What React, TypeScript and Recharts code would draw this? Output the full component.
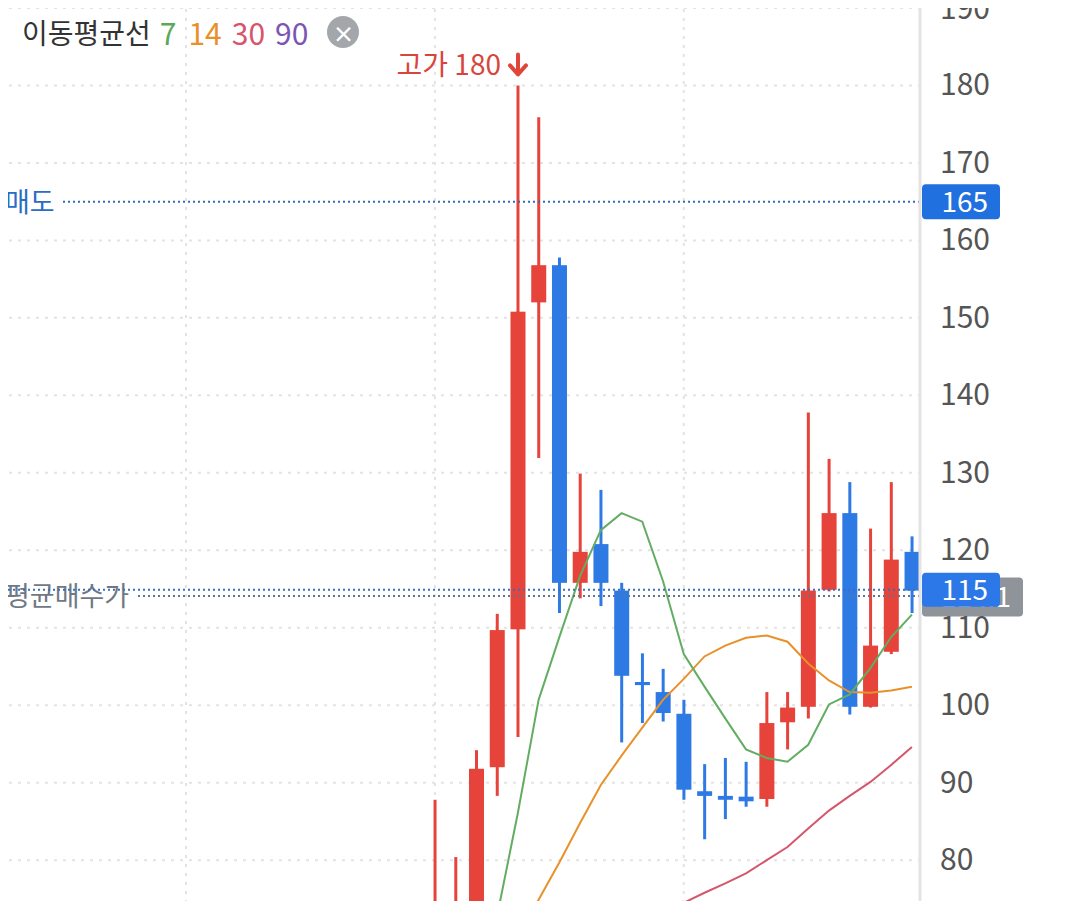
import React from 'react';
import { ComposedChart, Bar, Line, XAxis, YAxis, CartesianGrid, ReferenceLine } from 'recharts';

// candle index (no date labels are shown on the chart)
const candleIndex = [0, 1, 2, 3, 4, 5, 6, 7, 8, 9, 10, 11, 12, 13, 14, 15, 16, 17, 18, 19, 20, 21, 22, 23];

const opens = [70.0, 72.0, 74.7, 92.0, 109.8, 152.0, 156.8, 115.8, 120.8, 114.8, 103.0, 101.7, 98.9, 88.9, 88.3, 88.2, 87.9, 97.8, 99.8, 114.9, 124.8, 99.8, 106.9, 119.8];
const highs = [87.8, 80.4, 94.2, 111.8, 180.0, 175.9, 157.8, 129.9, 127.8, 115.8, 106.7, 104.7, 100.7, 92.4, 93.2, 92.7, 101.7, 101.7, 137.8, 131.8, 128.8, 122.8, 128.8, 121.8];
const lows = [66.0, 71.0, 72.5, 88.3, 95.9, 131.9, 111.9, 113.8, 112.8, 95.2, 97.7, 97.9, 87.8, 82.7, 85.3, 86.9, 86.9, 94.3, 98.3, 114.7, 98.8, 99.7, 106.6, 111.9];
const closes = [72.5, 74.6, 91.8, 109.7, 150.8, 156.8, 115.8, 119.8, 115.8, 103.8, 102.6, 99.0, 89.1, 88.3, 87.8, 87.6, 97.7, 99.7, 114.8, 124.8, 99.8, 107.7, 118.8, 114.8];

// moving averages (7 / 14 / 30)
const ma7 = [null, null, null, 72.8, 86.1, 100.7, 108.8, 116.7, 122.6, 124.8, 123.7, 116.0, 106.6, 102.4, 98.3, 94.3, 93.2, 92.7, 94.9, 100.1, 101.4, 104.8, 108.8, 111.7];
const ma14 = [null, null, null, null, 70.0, 74.9, 79.7, 84.8, 89.7, 93.5, 97.1, 100.7, 103.4, 106.3, 107.7, 108.7, 109.0, 108.2, 105.4, 103.2, 101.7, 101.6, 101.9, 102.4];
const ma30 = [null, null, null, null, null, null, null, null, null, null, null, 73.2, 74.5, 75.8, 77.0, 78.3, 80.0, 81.7, 84.1, 86.4, 88.3, 90.1, 92.3, 94.6];

const yTicks = [80, 90, 100, 110, 120, 130, 140, 150, 160, 170, 180, 190];
const gridCandles = [-12, 0, 12];

const sellPrice = 165;
const avgBuyPrice = 114.1;
const currentPrice = 114.9;

const RED = '#e6433b';
const BLUE = '#2e7ae4';
const FONT = "'Noto Sans CJK KR', 'Noto Sans', sans-serif";

const data = candleIndex.map((i, k) => ({
  i,
  open: opens[k],
  high: highs[k],
  low: lows[k],
  close: closes[k],
  range: [lows[k], highs[k]],
  ma7: ma7[k],
  ma14: ma14[k],
  ma30: ma30[k],
}));

const maxHigh = Math.max(...highs);

const Candle = (props: any) => {
  const { x, y, width, height, payload } = props;
  if (!payload) return null;
  const { open, close, high, low } = payload;
  const color = close >= open ? RED : BLUE;
  const ratio = height / (high - low);
  const yOf = (v: number) => y + (high - v) * ratio;
  const cx = x + width / 2;
  const bodyTop = yOf(Math.max(open, close));
  const bodyH = Math.max(3, Math.abs(open - close) * ratio);
  return (
    <g>
      <line x1={cx} x2={cx} y1={y} y2={y + height} stroke={color} strokeWidth={3} />
      <rect x={x} y={bodyTop} width={width} height={bodyH} fill={color} />
      {high === maxHigh && (
        <g>
          <text x={cx - 17} y={y - 10} textAnchor="end" fill="#d9453c" fontSize={28} fontFamily={FONT}>
            고가 {high}
          </text>
          <line x1={cx} x2={cx} y1={y - 31} y2={y - 12} stroke="#e0443a" strokeWidth={4} strokeLinecap="round" />
          <polyline points={`${cx - 8},${y - 20} ${cx},${y - 11} ${cx + 8},${y - 20}`} fill="none" stroke="#e0443a" strokeWidth={4} strokeLinecap="round" strokeLinejoin="round" />
        </g>
      )}
    </g>
  );
};

const YTick = (props: any) => {
  const { y, payload } = props;
  return (
    <text x={940} y={y} dy={10} fill="#555" fontSize={30} fontFamily={FONT}>
      {payload.value}
    </text>
  );
};

const LeftLabel = ({ viewBox, text, color, cover }: any) => {
  const { x, y } = viewBox;
  return (
    <g>
      <rect x={x} y={y - 3} width={cover} height={6} fill="#fff" />
      <text x={x + 5} y={y + 10} fill={color} fontSize={27} fontFamily={FONT}>{text}</text>
    </g>
  );
};

const PriceTag = ({ viewBox, text, fill, w, h, dy }: any) => {
  const { x, y, width } = viewBox;
  const left = x + width + 2;
  return (
    <g>
      <rect x={left} y={y - h / 2 + dy} width={w} height={h} rx={4} fill={fill} />
      <text x={left + w - 12} y={y + dy + 10} textAnchor="end" fill="#fff" fontSize={28} fontFamily={FONT}>{text}</text>
    </g>
  );
};

const App: React.FC = () => {
  return (
    <div style={{ position: 'relative', width: 1080, height: 909, margin: -8, overflow: 'hidden', background: '#fff', fontFamily: FONT }}>
      <ComposedChart width={1080} height={909} data={data} margin={{ top: 0, right: 0, bottom: 0, left: 0 }}>
        <CartesianGrid stroke="#e3e3e3" strokeDasharray="3 6" strokeWidth={2} />
        <XAxis hide type="number" dataKey="i" domain={[-20.97, 23.39]} ticks={gridCandles} allowDataOverflow />
        <YAxis
          orientation="right"
          width={160}
          domain={[73.7, 191.03]}
          ticks={yTicks}
          allowDataOverflow
          tickLine={false}
          axisLine={{ stroke: '#e4e4e4', strokeWidth: 3 }}
          tick={<YTick />}
        />
        <Line type="linear" dataKey="ma30" stroke="#d4576b" strokeWidth={2} dot={false} isAnimationActive={false} />
        <Line type="linear" dataKey="ma14" stroke="#e8912b" strokeWidth={2} dot={false} isAnimationActive={false} />
        <Line type="linear" dataKey="ma7" stroke="#62ad62" strokeWidth={2} dot={false} isAnimationActive={false} />
        <Bar dataKey="range" barSize={15} shape={<Candle />} isAnimationActive={false} />
        <ReferenceLine
          y={sellPrice}
          stroke="#2f6bbf"
          strokeDasharray="2 3"
          strokeWidth={2}
          label={(p: any) => (
            <g>
              <LeftLabel viewBox={p.viewBox} text="매도" color="#2b6cc4" cover={62} />
              <PriceTag viewBox={p.viewBox} text={sellPrice} fill="#2170e0" w={78} h={35} dy={0} />
            </g>
          )}
        />
        <ReferenceLine
          y={avgBuyPrice}
          stroke="#5f7392"
          strokeDasharray="2 3"
          strokeWidth={2}
          label={(p: any) => (
            <g>
              <LeftLabel viewBox={p.viewBox} text="평균매수가" color="#6f7985" cover={136} />
              <PriceTag viewBox={p.viewBox} text={avgBuyPrice} fill="#8f949b" w={101} h={39} dy={1} />
            </g>
          )}
        />
        <ReferenceLine
          y={currentPrice}
          stroke="#3a6fb8"
          strokeDasharray="2 3"
          strokeWidth={2}
          label={(p: any) => (
            <PriceTag viewBox={p.viewBox} text={Math.round(currentPrice)} fill="#2c78e8" w={78} h={34} dy={0} />
          )}
        />
      </ComposedChart>

      <div style={{ position: 'absolute', left: 22, top: 12, display: 'flex', alignItems: 'center', fontSize: 28, lineHeight: '40px', whiteSpace: 'nowrap' }}>
        <span style={{ color: '#333' }}>이동평균선</span>
        <span style={{ color: '#5aa85a', marginLeft: 9, fontSize: 30 }}>7</span>
        <span style={{ color: '#e8912a', marginLeft: 12, fontSize: 30 }}>14</span>
        <span style={{ color: '#d9546b', marginLeft: 10, fontSize: 30 }}>30</span>
        <span style={{ color: '#7b55b5', marginLeft: 10, fontSize: 30 }}>90</span>
        <span
          style={{
            marginLeft: 19,
            width: 32,
            height: 32,
            borderRadius: 16,
            background: '#a3a6ab',
            color: '#fff',
            fontSize: 22,
            lineHeight: '32px',
            textAlign: 'center',
            fontWeight: 700,
          }}
        >
          ×
        </span>
      </div>
    </div>
  );
};

export default App;
